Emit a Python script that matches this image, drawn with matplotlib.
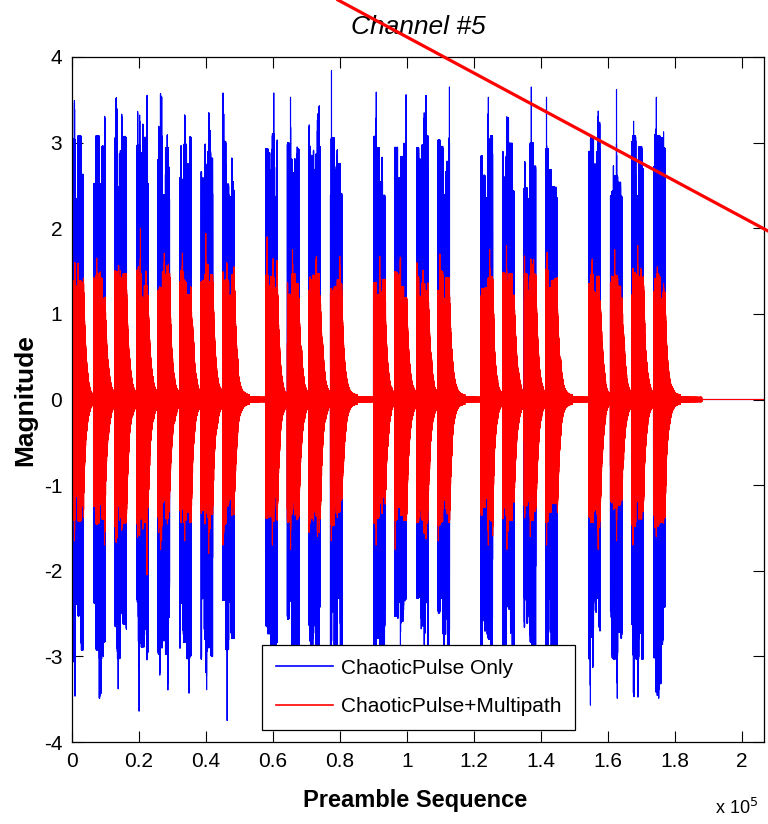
import numpy as np
import matplotlib
matplotlib.use('Agg')
import matplotlib.pyplot as plt
from matplotlib.lines import Line2D
from matplotlib.ticker import MultipleLocator, FuncFormatter

plt.rcParams['agg.path.chunksize'] = 20000
plt.rcParams['font.family'] = ['Liberation Sans', 'DejaVu Sans']
plt.rcParams['axes.unicode_minus'] = False

# ---------------- preamble layout ----------------
# 28 pulse slots, 0 = silent slot
slot_on = [1, 1, 1, 1, 1, 1, 1, 1, 0, 1, 1, 1, 1, 0,
           1, 1, 1, 1, 0, 1, 1, 1, 1, 0, 1, 1, 1, 1]
slot_len = 6430          # samples per slot
pulse_len = 3400         # samples per chaotic pulse
n_samples = 206600

# strongest swing of every transmitted pulse (pulse only)
peak_hi = [3.39, 3.17, 3.44, 3.25, 3.29, 3.16, 3.35, 3.58,
           3.58, 3.53, 3.17, 3.84, 3.59, 3.56, 3.41, 3.65,
           3.53, 3.04, 3.65, 3.53, 3.26, 3.62, 3.25, 3.53]
peak_lo = [-3.18, -3.18, -3.38, -3.64, -3.31, -3.43, -3.39, -3.75,
           -3.10, -3.20, -3.05, -3.30, -3.25, -3.15, -3.35, -3.20,
           -3.30, -3.10, -3.25, -3.40, -3.57, -3.49, -3.36, -3.49]

# strongest swing of every received pulse (with multipath)
red_hi = [1.57, 1.65, 1.55, 2.00, 1.71, 1.71, 1.94, 1.60,
          1.90, 1.75, 1.67, 1.67, 1.67, 1.60, 1.55, 1.70,
          1.75, 1.80, 1.65, 1.70, 1.60, 1.75, 1.80, 1.55]
red_lo = [-1.65, -1.70, -1.60, -2.05, -1.75, -1.65, -1.80, -1.70,
          -1.70, -1.75, -1.60, -1.65, -1.70, -1.75, -1.60, -1.65,
          -1.70, -1.75, -1.60, -1.70, -1.75, -1.65, -1.70, -1.60]

blue_base = (2.35, 0.75)   # envelope floor, spread
red_base = (1.15, 0.30)
tau = 800                  # multipath decay, samples
tail_len = 11000
resid = 0.025


def logistic_chains(n, seeds, r=3.99):
    x = np.array(seeds, dtype=float)
    out = np.empty((n, len(seeds)))
    for i in range(n):
        x = r * x * (1.0 - x)
        out[i] = x
    return out


chaos = logistic_chains(n_samples, [0.123, 0.271, 0.389, 0.417, 0.533,
                                    0.641, 0.707, 0.811])
t = np.arange(n_samples)


def envelope(col, floor, spread, spike):
    # stepped envelope with rare short overshoots
    blk = (t // 900) * 900
    sblk = (t // 60) * 60
    base = floor + spread * chaos[blk, col]
    over = 1 + spike * np.clip((chaos[sblk, col + 1] - 0.99) / 0.01, 0, 1)
    return base * over


ub = 2 * chaos[:, 0] - 1
ur = 2 * chaos[:, 1] - 1
blue_env = np.where(ub > 0, envelope(2, *blue_base, 0.22), envelope(4, *blue_base, 0.22))
red_env = np.where(ur > 0, envelope(6, *red_base, 0.2), envelope(2, *red_base, 0.2))

blue = np.zeros(n_samples)
red = np.zeros(n_samples)
starts = [k * slot_len for k, on in enumerate(slot_on) if on]

for p, s in enumerate(starts):
    seg = slice(s, s + pulse_len)
    blue[seg] = blue_env[seg] * ub[seg]
    blue[s + np.argmax(blue[seg])] = peak_hi[p]
    blue[s + np.argmin(blue[seg])] = peak_lo[p]

    e = min(s + pulse_len + tail_len, n_samples)
    dt = np.arange(e - s) - pulse_len
    decay = np.where(dt < 0, 1.0, np.exp(-np.clip(dt, 0, None) / tau))
    red_seg = decay * red_env[s:e] * ur[s:e]
    red_seg += np.where(dt >= 0, resid * np.sign(ur[s:e]), 0)
    red[s:e] += red_seg
    red[s + np.argmax(red[seg])] = red_hi[p]
    red[s + np.argmin(red[seg])] = red_lo[p]

# ---------------- figure ----------------
fig = plt.figure(figsize=(7.68, 8.24), dpi=100)
ax = fig.add_axes([72 / 768, 82 / 824, 692 / 768, 685 / 824])

ax.plot(t, blue, color='#0000ff', lw=0.8)
ax.plot(t, red, color='#ff0000', lw=0.8)

ax.set_xlim(0, n_samples)
ax.set_ylim(-4, 4)
ax.xaxis.set_major_locator(MultipleLocator(20000))
ax.yaxis.set_major_locator(MultipleLocator(1))
ax.xaxis.set_major_formatter(FuncFormatter(lambda v, pos: f'{v / 1e5:g}'))
ax.tick_params(direction='in', length=8, width=0.8, top=True, right=True,
               labelsize=15, pad=7)
for sp in ax.spines.values():
    sp.set_linewidth(0.9)

handles = [Line2D([], [], color='#0000ff', lw=1.2),
           Line2D([], [], color='#ff0000', lw=1.2)]
leg = ax.legend(handles, ['ChaoticPulse Only', 'ChaoticPulse+Multipath'],
                loc='lower left', bbox_to_anchor=(0.2746, 0.0175),
                borderaxespad=0, fontsize=15, fancybox=False, framealpha=1,
                edgecolor='black', handlelength=2.75, handletextpad=0.35,
                labelspacing=0.92, borderpad=0.68)
leg.get_frame().set_linewidth(0.9)

fig.text(418 / 768, 1 - 27 / 824, 'Channel #5', ha='center', va='center',
         fontsize=19, style='italic')
fig.text(415 / 768, 1 - 800 / 824, 'Preamble Sequence', ha='center', va='center',
         fontsize=17, fontweight='bold')
fig.text(25 / 768, 1 - 400 / 824, 'Magnitude', ha='center', va='center',
         rotation=90, fontsize=19, fontweight='bold')
fig.text(737 / 768, 1 - 808 / 824, r'x 10$^5$', ha='center', va='center',
         fontsize=13)

# stray marker stroke over the top right of the sheet
fig.add_artist(Line2D([338 / 768, 1.0], [1.0, 1 - 231 / 824],
                      transform=fig.transFigure, color='#ff0000', lw=2.3,
                      zorder=10))

fig.savefig('out.png', dpi=100)
